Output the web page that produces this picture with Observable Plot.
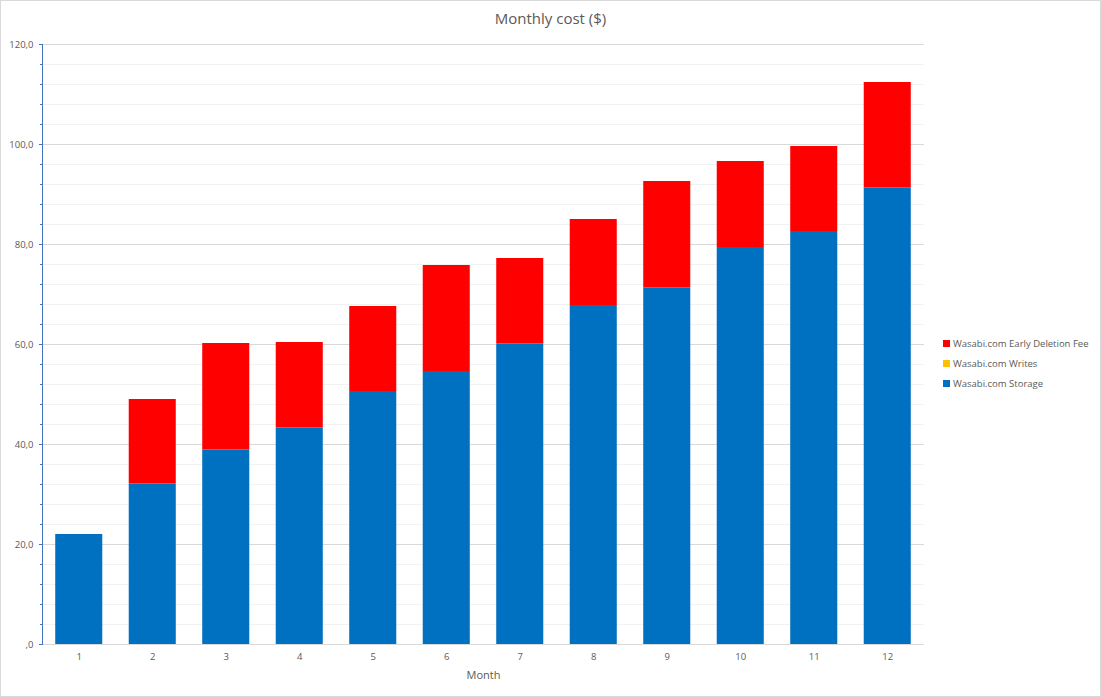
<!DOCTYPE html>
<html>
<head>
<meta charset="utf-8">
<script src="https://cdn.jsdelivr.net/npm/d3@7"></script>
<script src="https://cdn.jsdelivr.net/npm/@observablehq/plot@0.6"></script>
<style>
  html, body { margin: 0; padding: 0; background: #fff; }
  #chart { position: relative; width: 1101px; height: 697px; font-family: "Open Sans", "Noto Sans", sans-serif; color: #595959; }
  #chart svg { position: absolute; left: 0; top: 0; }
  #border { position: absolute; left: 0; top: 0; width: 1099px; height: 695px; border: 1px solid #d9d9d9; pointer-events: none; }
  #title { position: absolute; left: 0; width: 1101px; top: 8px; text-align: center; font-size: 15px; color: #595959; }
  #legend { position: absolute; left: 943px; top: 333px; font-size: 9.5px; color: #595959; }
  .item { display: flex; align-items: center; height: 20px; }
  .sw { width: 7px; height: 7px; margin-right: 3px; }
</style>
</head>
<body>
<div id="chart">
  <div id="title">Monthly cost ($)</div>
  <div id="legend"></div>
  <div id="border"></div>
</div>
<script>
const months = [1, 2, 3, 4, 5, 6, 7, 8, 9, 10, 11, 12];
const storage = [22.0, 32.1, 38.9, 43.3, 50.6, 54.6, 60.1, 67.8, 71.3, 79.4, 82.6, 91.3];
const writes = [0, 0, 0, 0, 0, 0, 0, 0, 0, 0, 0, 0];
const deletionFee = [0, 16.9, 21.3, 17.1, 17.0, 21.2, 17.1, 17.2, 21.3, 17.2, 17.0, 21.1];
const seriesNames = ["Wasabi.com Storage", "Wasabi.com Writes", "Wasabi.com Early Deletion Fee"];
const seriesColors = ["#0070C0", "#FFC000", "#FF0000"];
const majorTicks = [0, 20, 40, 60, 80, 100, 120];
const minorTicks = d3.range(0, 121, 4).filter(d => d % 20 !== 0);

const seriesValues = [storage, writes, deletionFee];
const data = [];
seriesNames.forEach((name, si) => {
  months.forEach((m, i) => data.push({month: m, series: name, value: seriesValues[si][i]}));
});

const fmt = d => d === 0 ? ",0" : d.toFixed(1).replace(".", ",");

const plot = Plot.plot({
  width: 1101,
  height: 697,
  marginLeft: 42,
  marginRight: 177,
  marginTop: 44,
  marginBottom: 53,
  style: {fontFamily: "'Open Sans', 'Noto Sans', sans-serif", fontSize: "9.5px", color: "#595959", background: "transparent"},
  x: {domain: months, paddingInner: 0.36, paddingOuter: 0.18, round: false, label: null},
  y: {domain: [0, 120], label: null},
  color: {domain: seriesNames, range: seriesColors},
  marks: [
    Plot.ruleY(minorTicks, {stroke: "#f2f2f2"}),
    Plot.ruleY(majorTicks, {stroke: "#d9d9d9"}),
    Plot.barY(data, {x: "month", y: "value", fill: "series", order: seriesNames}),
    Plot.axisY({ticks: minorTicks, tickSize: 2, tickFormat: () => "", stroke: "#4472c4"}),
    Plot.axisY({ticks: majorTicks, tickSize: 3, tickPadding: 6, tickFormat: fmt, stroke: "#4472c4", fill: "#595959", label: null}),
    Plot.axisX({tickSize: 0, tickPadding: 9, fill: "#595959", label: null}),
    Plot.frame({anchor: "left", stroke: "#4472c4"}),
    Plot.text(["Month"], {frameAnchor: "bottom", dy: 34, fill: "#595959", fontSize: 11})
  ]
});
document.getElementById("chart").insertBefore(plot, document.getElementById("title"));

const legend = document.getElementById("legend");
[2, 1, 0].forEach(i => {
  const it = document.createElement("div");
  it.className = "item";
  const sw = document.createElement("div");
  sw.className = "sw";
  sw.style.background = seriesColors[i];
  const t = document.createElement("span");
  t.textContent = seriesNames[i];
  it.appendChild(sw); it.appendChild(t);
  legend.appendChild(it);
});
</script>
</body>
</html>
